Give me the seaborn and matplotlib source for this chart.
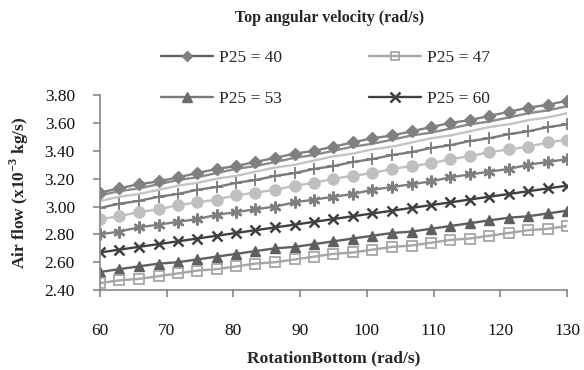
import matplotlib
matplotlib.use("Agg")
import matplotlib.pyplot as plt
import seaborn as sns
from matplotlib.lines import Line2D

# x positions (RotationBottom, rad/s)
rotation = [60, 62.9, 65.8, 68.8, 71.7, 74.6, 77.5, 80.4, 83.3, 86.3, 89.2, 92.1, 95,
            97.9, 100.8, 103.8, 106.7, 109.6, 112.5, 115.4, 118.3, 121.3, 124.2, 127.1, 130]

# air flow series (x10^-3 kg/s)
p25_40 = [3.10, 3.13, 3.16, 3.18, 3.21, 3.24, 3.27, 3.29, 3.32, 3.35, 3.38, 3.40, 3.43,
          3.46, 3.49, 3.51, 3.54, 3.57, 3.60, 3.62, 3.65, 3.68, 3.71, 3.73, 3.76]
grey_a = [3.08, 3.11, 3.13, 3.16, 3.19, 3.21, 3.24, 3.27, 3.29, 3.32, 3.35, 3.37, 3.40,
          3.43, 3.45, 3.48, 3.51, 3.53, 3.56, 3.59, 3.61, 3.64, 3.67, 3.69, 3.72]
grey_b = [3.04, 3.07, 3.09, 3.12, 3.15, 3.17, 3.20, 3.22, 3.25, 3.28, 3.30, 3.33, 3.36,
          3.38, 3.41, 3.43, 3.46, 3.49, 3.51, 3.54, 3.57, 3.59, 3.62, 3.64, 3.67]
plus_line = [2.99, 3.02, 3.04, 3.07, 3.09, 3.12, 3.14, 3.17, 3.19, 3.22, 3.24, 3.27, 3.29,
             3.32, 3.34, 3.37, 3.39, 3.42, 3.44, 3.47, 3.49, 3.52, 3.54, 3.57, 3.59]
circle_line = [2.91, 2.93, 2.96, 2.98, 3.01, 3.03, 3.05, 3.08, 3.10, 3.12, 3.15, 3.17, 3.20,
               3.22, 3.24, 3.27, 3.29, 3.31, 3.34, 3.36, 3.39, 3.41, 3.43, 3.46, 3.48]
star_line = [2.80, 2.82, 2.85, 2.87, 2.89, 2.91, 2.94, 2.96, 2.98, 3.00, 3.03, 3.05, 3.07,
             3.09, 3.12, 3.14, 3.16, 3.18, 3.21, 3.23, 3.25, 3.27, 3.30, 3.32, 3.34]
p25_60 = [2.67, 2.69, 2.71, 2.73, 2.75, 2.77, 2.79, 2.81, 2.83, 2.85, 2.87, 2.89, 2.91,
          2.93, 2.95, 2.97, 2.99, 3.01, 3.03, 3.05, 3.07, 3.09, 3.11, 3.13, 3.15]
p25_53 = [2.53, 2.55, 2.57, 2.59, 2.60, 2.62, 2.64, 2.66, 2.68, 2.70, 2.71, 2.73, 2.75,
          2.77, 2.79, 2.81, 2.82, 2.84, 2.86, 2.88, 2.90, 2.92, 2.93, 2.95, 2.97]
p25_47 = [2.45, 2.47, 2.48, 2.50, 2.52, 2.54, 2.55, 2.57, 2.59, 2.60, 2.62, 2.64, 2.66,
          2.67, 2.69, 2.71, 2.72, 2.74, 2.76, 2.77, 2.79, 2.81, 2.83, 2.84, 2.86]

y_ticks = [2.40, 2.60, 2.80, 3.00, 3.20, 3.40, 3.60, 3.80]
x_ticks = [60, 70, 80, 90, 100, 110, 120, 130]

sns.set_style("ticks")
plt.rcParams['font.family'] = ['Liberation Serif', 'DejaVu Serif']
plt.rcParams['mathtext.fontset'] = 'custom'
plt.rcParams['mathtext.rm'] = 'Liberation Serif'
plt.rcParams['mathtext.bf'] = 'Liberation Serif:bold'

fig = plt.figure(figsize=(5.84, 3.70), dpi=100)
ax = fig.add_axes([0.171, 0.216, 0.800, 0.527])

# (values, colour, marker, size, face, edge width)
series = [
    (grey_a, "#8a8a8a", None, 0, None, 0),
    (grey_b, "#c4c4c4", None, 0, None, 0),
    (p25_40, "#808080", "D", 6, "#808080", 1),
    (plus_line, "#7a7a7a", "+", 8.5, "#7a7a7a", 1.3),
    (circle_line, "#c0c0c0", "o", 8, "#c0c0c0", 1),
    (star_line, "#7f7f7f", (6, 2, 0), 8.5, "#7f7f7f", 1.8),
    (p25_60, "#404040", "x", 7, "#404040", 1.8),
    (p25_53, "#5f5f5f", "^", 7.5, "#5f5f5f", 1),
    (p25_47, "#a6a6a6", "s", 6.5, "none", 1.3),
]

for vals, col, mk, ms, face, mew in series:
    if mk is None:
        sns.lineplot(x=rotation, y=vals, ax=ax, color=col, linewidth=1.7)
    else:
        sns.lineplot(x=rotation, y=vals, ax=ax, color=col, linewidth=1.7,
                     marker=mk, markersize=ms, markerfacecolor=face,
                     markeredgecolor=col, markeredgewidth=mew)

ax.set_xlim(60, 130)
ax.set_ylim(2.40, 3.80)
ax.set_xticks(x_ticks)
ax.set_yticks(y_ticks)
ax.set_yticklabels([f"{t:.2f}" for t in y_ticks])

sns.despine(ax=ax)
for side in ["left", "bottom"]:
    ax.spines[side].set_color("#868686")
    ax.spines[side].set_linewidth(1.2)
ax.tick_params(axis="both", colors="#868686", labelcolor="#111111", labelsize=12.5,
               length=5, width=1.2, direction="out")
ax.tick_params(axis="x", pad=19)
ax.tick_params(axis="y", pad=13)

ax.set_xlabel("RotationBottom (rad/s)", fontsize=12.5, fontweight="bold", labelpad=8)
ax.set_ylabel(r"Air flow (x10$^{\mathbf{-3}}$ kg/s)", fontsize=12.5, fontweight="bold",
              labelpad=10)

fig.text(0.565, 0.951, "Top angular velocity (rad/s)", ha="center", va="center",
         fontsize=11.5, fontweight="bold")

h40 = Line2D([], [], color="#606060", lw=1.7, marker="D", ms=5.5, mfc="#808080", mec="#808080")
h47 = Line2D([], [], color="#a6a6a6", lw=1.7, marker="s", ms=6, mfc="none", mec="#a6a6a6", mew=1.3)
h53 = Line2D([], [], color="#7a7a7a", lw=1.7, marker="^", ms=7, mfc="#6a6a6a", mec="#6a6a6a")
h60 = Line2D([], [], color="#404040", lw=1.7, marker="x", ms=6.5, mec="#404040", mew=1.8)
# column-first ordering so rows read 40, 47 / 53, 60
fig.legend([h40, h53, h47, h60], ["P25 = 40", "P25 = 53", "P25 = 47", "P25 = 60"],
           loc="center", bbox_to_anchor=(0.557, 0.788), ncol=2, frameon=False,
           fontsize=12.5, handlelength=3.0, columnspacing=5.0,
           labelspacing=1.45, handletextpad=0.35)

fig.savefig("out.png", dpi=100)
